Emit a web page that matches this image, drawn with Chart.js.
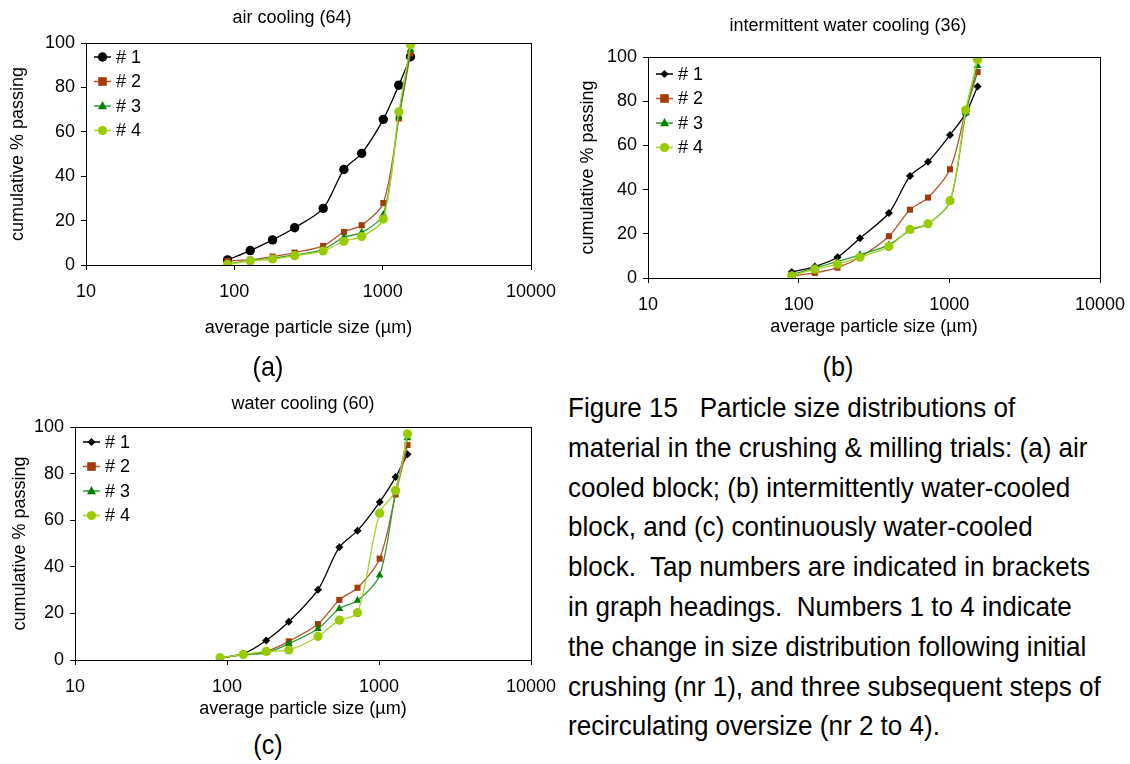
<!DOCTYPE html>
<html>
<head>
<meta charset="utf-8">
<script src="https://cdn.jsdelivr.net/npm/chart.js@4.4.1/dist/chart.umd.min.js"></script>
<style>
  html, body { margin: 0; padding: 0; background: #fff; }
  body { width: 1130px; height: 764px; position: relative; overflow: hidden; font-family: "Liberation Sans", Arial, sans-serif; }
  canvas { position: absolute; }
  .t { position: absolute; transform: translate(-50%, -50%); white-space: nowrap; color: #000; }
  .head { font-size: 18px; }
  .lab { font-size: 28px; transform: translate(-50%, -50%) scaleX(0.9); }
  #caption { position: absolute; left: 568px; top: 388px; font-size: 28px; line-height: 39.8px; color: #000; white-space: nowrap; transform: scaleX(0.93); transform-origin: 0 0; }
</style>
</head>
<body>
<canvas id="chartA"></canvas>
<canvas id="chartB"></canvas>
<canvas id="chartC"></canvas>

<div class="t head" style="left:292px; top:17px">air cooling (64)</div>
<div class="t head" style="left:848px; top:25px">intermittent water cooling (36)</div>
<div class="t head" style="left:303px; top:403px">water cooling (60)</div>

<div class="t lab" style="left:268px; top:367px">(a)</div>
<div class="t lab" style="left:838px; top:367px">(b)</div>
<div class="t lab" style="left:268px; top:745px">(c)</div>

<div id="caption">Figure 15&nbsp;&nbsp; Particle size distributions of<br>material in the crushing &amp; milling trials: (a) air<br>cooled block; (b) intermittently water-cooled<br>block, and (c) continuously water-cooled<br>block.&nbsp; Tap numbers are indicated in brackets<br>in graph headings.&nbsp; Numbers 1 to 4 indicate<br>the change in size distribution following initial<br>crushing (nr 1), and three subsequent steps of<br>recirculating oversize (nr 2 to 4).</div>

<script>
// particle sizes (µm), same sieve fractions for every chart
const sizes = [90, 128, 181, 255, 397, 548, 722, 1010, 1285, 1540];
const xTicks = [10, 100, 1000, 10000];
const yTicks = [0, 20, 40, 60, 80, 100];
const tapLabels = ['# 1', '# 2', '# 3', '# 4'];

// (a) air cooling (64)
const airT1 = [2.3, 6.5, 11.3, 16.8, 25.5, 43, 50.3, 65.6, 81, 93.8];
const airT2 = [1.8, 2.4, 3.8, 5.6, 8.6, 14.9, 17.9, 27.9, 66, 95.3];
const airT3 = [0.5, 2, 3, 4.5, 7, 12.5, 14.6, 22.8, 66.7, 97];
const airT4 = [0.3, 1.8, 2.7, 4.2, 6.3, 10.7, 12.8, 20.7, 69, 99.2];

// (b) intermittent water cooling (36)
const interT1 = [2.7, 5.2, 9.4, 18, 29.4, 46.1, 52.6, 64.7, 74.5, 86.7];
const interT2 = [0.9, 2.3, 4.7, 9.4, 18.9, 30.9, 36.4, 49.2, 75.6, 93.2];
const interT3 = [1.5, 4.5, 7.5, 10.5, 15, 21.5, 24.5, 34.5, 74.5, 96];
const interT4 = [1, 4, 6.2, 9.4, 14.2, 22, 24.5, 35, 76, 98.8];

// (c) water cooling (60)
const waterT1 = [0.9, 2.7, 8.4, 16.4, 30.2, 48.4, 55.5, 67.8, 78.5, 88.3];
const waterT2 = [0.7, 2.3, 3.7, 8, 15.4, 25.8, 31, 43.5, 71, 92.3];
const waterT3 = [0.9, 2.3, 3.1, 7, 13.4, 22, 25.5, 36.4, 72.2, 95.3];
const waterT4 = [1, 2.4, 3.7, 4.3, 10.1, 17.1, 20.3, 63, 72.8, 97.1];

const lineColors = ['#000000', '#B5532A', '#2E9B2E', '#A8D42A'];
const markColors = ['#000000', '#A33A0A', '#008000', '#99CC00'];

const FONT = '"Liberation Sans", Arial, sans-serif';

function drawMarker(ctx, style, r, x, y) {
  ctx.beginPath();
  if (style === 'circle') {
    ctx.arc(x, y, r, 0, Math.PI * 2);
  } else if (style === 'rect') {
    ctx.rect(x - r, y - r, 2 * r, 2 * r);
  } else if (style === 'triangle') {
    ctx.moveTo(x, y - r * 1.1);
    ctx.lineTo(x + r, y + r * 0.7);
    ctx.lineTo(x - r, y + r * 0.7);
    ctx.closePath();
  } else {
    ctx.moveTo(x, y - r);
    ctx.lineTo(x + r, y);
    ctx.lineTo(x, y + r);
    ctx.lineTo(x - r, y);
    ctx.closePath();
  }
  ctx.fill();
}

// legend drawn inside the plot area, top-left, Excel style
const insideLegend = {
  id: 'insideLegend',
  afterDraw(chart, args, opts) {
    const { ctx, chartArea } = chart;
    ctx.save();
    chart.data.datasets.forEach((ds, i) => {
      const y = chartArea.top + opts.top + i * opts.gap;
      const x0 = chartArea.left + opts.left;
      ctx.strokeStyle = ds.borderColor;
      ctx.lineWidth = 1.5;
      ctx.beginPath();
      ctx.moveTo(x0, y);
      ctx.lineTo(x0 + 17, y);
      ctx.stroke();
      ctx.fillStyle = ds.pointBackgroundColor;
      drawMarker(ctx, ds.pointStyle, ds.pointRadius, x0 + 8.5, y);
      ctx.fillStyle = '#000';
      ctx.font = '18px ' + FONT;
      ctx.textBaseline = 'middle';
      ctx.fillText(ds.label, x0 + 22, y + 1);
    });
    ctx.restore();
  }
};

const plotBox = {
  id: 'plotBox',
  afterDraw(chart) {
    const { ctx, chartArea: a } = chart;
    ctx.save();
    ctx.strokeStyle = '#000';
    ctx.lineWidth = 1;
    ctx.strokeRect(Math.round(a.left) + 0.5, Math.round(a.top) + 0.5, Math.round(a.right - a.left), Math.round(a.bottom - a.top));
    ctx.restore();
  }
};

function makeChart(id, g, series, firstStyle) {
  const cv = document.getElementById(id);
  cv.style.left = g.x + 'px';
  cv.style.top = g.y + 'px';
  cv.style.width = g.w + 'px';
  cv.style.height = g.h + 'px';
  cv.width = g.w;
  cv.height = g.h;
  const styles = [firstStyle, 'rect', 'triangle', 'circle'];
  const radii = [firstStyle === 'circle' ? 4.7 : 4, 4.3, 4.5, 4.6];

  return new Chart(cv, {
    type: 'line',
    data: {
      datasets: series.map((vals, i) => ({
        label: tapLabels[i],
        data: sizes.map((s, k) => ({ x: s, y: vals[k] })),
        borderColor: lineColors[i],
        borderWidth: 1.3,
        pointStyle: styles[i],
        pointRadius: radii[i],
        pointBackgroundColor: markColors[i],
        pointBorderColor: markColors[i],
        pointBorderWidth: 0,
        tension: 0.3,
        fill: false,
        order: 4 - i
      }))
    },
    options: {
      responsive: false,
      animation: false,
      events: [],
      layout: { padding: { left: g.pl, right: g.pr, top: g.pt, bottom: g.pb } },
      plugins: {
        legend: { display: false },
        tooltip: { enabled: false },
        insideLegend: { left: 8, top: g.legTop, gap: 24.5 }
      },
      scales: {
        x: {
          type: 'logarithmic',
          min: 10,
          max: 10000,
          afterBuildTicks: sc => { sc.ticks = xTicks.map(v => ({ value: v })); },
          afterFit: sc => { sc.height = g.hx; sc.paddingLeft = 0; sc.paddingRight = 0; },
          ticks: { color: '#000', font: { size: 18, family: FONT }, padding: 11, maxRotation: 0, autoSkip: false, callback: v => String(v) },
          grid: { display: true, drawOnChartArea: false, drawTicks: true, tickLength: 5, color: '#000' },
          border: { display: true, color: '#000' },
          title: { display: true, text: 'average particle size (µm)', color: '#000', font: { size: 18, family: FONT }, padding: 0 }
        },
        y: {
          type: 'linear',
          min: 0,
          max: 100,
          afterBuildTicks: sc => { sc.ticks = yTicks.map(v => ({ value: v })); },
          afterFit: sc => { sc.width = g.wy; },
          ticks: { color: '#000', font: { size: 18, family: FONT }, padding: 6 },
          grid: { display: true, drawOnChartArea: false, drawTicks: true, tickLength: 5, color: '#000' },
          border: { display: true, color: '#000' },
          title: { display: true, text: 'cumulative % passing', color: '#000', font: { size: 18, family: FONT }, padding: 0 }
        }
      }
    },
    plugins: [plotBox, insideLegend]
  });
}

makeChart('chartA',
  { x: 0, y: 0, w: 560, h: 345, pl: 7, pr: 29, pt: 43, pb: 6, wy: 79, hx: 74, legTop: 14 },
  [airT1, airT2, airT3, airT4], 'circle');

makeChart('chartB',
  { x: 560, y: 0, w: 570, h: 345, pl: 17, pr: 30, pt: 57, pb: 7, wy: 71, hx: 60, legTop: 17 },
  [interT1, interT2, interT3, interT4], 'rectRot');

makeChart('chartC',
  { x: 0, y: 380, w: 560, h: 345, pl: 9, pr: 29, pt: 47, pb: 5, wy: 66, hx: 60, legTop: 15 },
  [waterT1, waterT2, waterT3, waterT4], 'rectRot');
</script>
</body>
</html>
